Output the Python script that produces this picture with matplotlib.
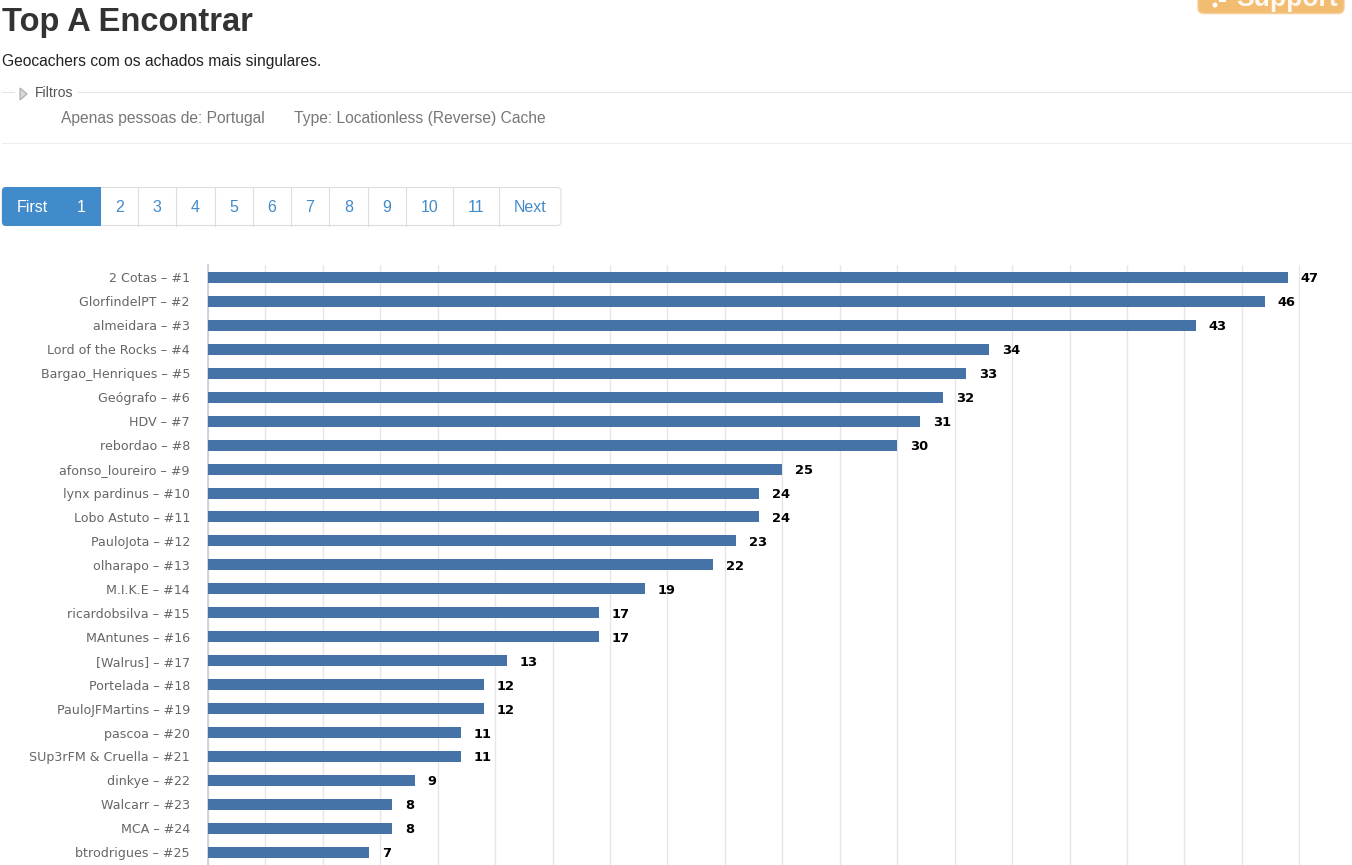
import matplotlib
matplotlib.use("Agg")
import matplotlib.pyplot as plt
from matplotlib.patches import FancyBboxPatch, Rectangle, Polygon, Circle
from matplotlib.lines import Line2D

W, H = 1352, 865

names = ["2 Cotas", "GlorfindelPT", "almeidara", "Lord of the Rocks", "Bargao_Henriques",
         "Geógrafo", "HDV", "rebordao", "afonso_loureiro", "lynx pardinus", "Lobo Astuto",
         "PauloJota", "olharapo", "M.I.K.E", "ricardobsilva", "MAntunes", "[Walrus]",
         "Portelada", "PauloJFMartins", "pascoa", "SUp3rFM & Cruella", "dinkye", "Walcarr",
         "MCA", "btrodrigues"]
values = [47, 46, 43, 34, 33, 32, 31, 30, 25, 24, 24, 23, 22, 19, 17, 17, 13, 12, 12, 11, 11, 9, 8, 8, 7]
page_labels = ["2", "3", "4", "5", "6", "7", "8", "9", "10", "11", "Next"]
page_edges = [101, 138, 176, 215, 253, 291, 329, 368, 406, 453, 499, 561]

fig = plt.figure(figsize=(W / 100, H / 100), dpi=100, facecolor="white")
SANS = "Liberation Sans"
VERD = "DejaVu Sans"

def pt(px):
    return px * 0.72

# Page overlay in pixel coordinates
pg = fig.add_axes([0, 0, 1, 1], zorder=1)
pg.set_xlim(0, W)
pg.set_ylim(H, 0)
pg.axis("off")

# Chart
left, right, top = 208, 1300, 265
ax = fig.add_axes([left / W, 0, (right - left) / W, (H - top) / H], zorder=2)
ax.patch.set_alpha(0)
ax.set_xlim(0, 47.53)
ax.set_ylim(24.53, -0.52)
positions = list(range(len(values)))
ax.barh(positions, values, height=0.46, color="#4572a7", edgecolor="none", zorder=3)
ax.set_xticks([2.5 * i for i in range(20)])
ax.grid(axis="x", color="#e6e6e6", linewidth=1.0, zorder=0)
ax.set_axisbelow(True)
ax.tick_params(axis="x", length=0, labelbottom=False)
ax.tick_params(axis="y", length=0, pad=13)
ax.set_yticks(positions)
ax.set_yticklabels([f"{n} – #{i + 1}" for i, n in enumerate(names)],
                   fontsize=pt(12.6), color="#666666", family=VERD)
for s in ("top", "right", "bottom"):
    ax.spines[s].set_visible(False)
ax.spines["left"].set_color("#c0d0e0")
ax.spines["left"].set_linewidth(1.2)
for p, v in zip(positions, values):
    ax.annotate(str(v), (v, p), xytext=(13, 0), textcoords="offset pixels",
                va="center_baseline", ha="left", fontsize=pt(13), fontweight="bold",
                color="black", family=VERD, zorder=4)

# Heading
pg.text(2, 23, "Top A Encontrar", fontsize=pt(32.7), fontweight="bold", color="#333333",
        family=SANS, va="center", ha="left")
pg.text(2, 61.5, "Geocachers com os achados mais singulares.", fontsize=pt(15.6), color="#222222",
        family=SANS, va="center", ha="left")

# Support button, cut off by the page top
pg.add_patch(FancyBboxPatch((1198, -20), 146, 33.5, boxstyle="round,pad=0,rounding_size=6",
                            mutation_scale=1, facecolor="#f0ad4e", alpha=0.8, edgecolor="#f5cc99", linewidth=1.2))
t = pg.text(1236, 6, "Support", fontsize=pt(26.5), fontweight="bold", color="white", alpha=0.9, family=SANS,
            va="baseline", ha="left")
t.set_clip_on(True)
pg.add_patch(Circle((1215, 5), 2.5, facecolor="white", edgecolor="none"))
pg.add_patch(Rectangle((1219, 0), 7, 2, facecolor="white", edgecolor="none"))

# Filters
pg.add_line(Line2D([2, 14], [92, 92], color="#e5e5e5", lw=0.8))
pg.add_line(Line2D([78, W], [92, 92], color="#e5e5e5", lw=0.8))
pg.add_patch(Polygon([(20, 88), (20, 100), (27, 94)], closed=True, facecolor="#d8d8d8", edgecolor="#aaaaaa", lw=0.8))
pg.text(35, 93, "Filtros", fontsize=pt(14), color="#555555", family=SANS, va="center", ha="left")
pg.text(61, 118, "Apenas pessoas de: Portugal", fontsize=pt(15.65), color="#777777", family=SANS, va="center", ha="left")
pg.text(294, 118, "Type: Locationless (Reverse) Cache", fontsize=pt(15.6), color="#777777", family=SANS, va="center", ha="left")
pg.add_line(Line2D([2, W], [143, 143], color="#eeeeee", lw=0.8))

# Pagination
pg.add_patch(FancyBboxPatch((2, 187.5), 559, 38, boxstyle="round,pad=0,rounding_size=4",
                            mutation_scale=1, facecolor="white", edgecolor="#dddddd", linewidth=0.8))
pg.add_patch(FancyBboxPatch((2, 187), 99, 39, boxstyle="round,pad=0,rounding_size=4",
                            mutation_scale=1, facecolor="#428bca", edgecolor="none"))
pg.add_patch(Rectangle((92, 187), 9, 39, facecolor="#428bca", edgecolor="none"))
pg.text(32, 207, "First", fontsize=pt(16), color="white", family=SANS, va="center", ha="center")
pg.text(81.5, 207, "1", fontsize=pt(16), color="white", family=SANS, va="center", ha="center")
for i, lab in enumerate(page_labels):
    x0, x1 = page_edges[i], page_edges[i + 1]
    pg.text((x0 + x1) / 2, 207, lab, fontsize=pt(16), color="#428bca", family=SANS, va="center", ha="center")
    if i < len(page_labels) - 1:
        pg.add_line(Line2D([x1 - 0.5, x1 - 0.5], [187.5, 225.5], color="#dddddd", lw=0.8))

fig.savefig("out.png", dpi=100, facecolor="white")
